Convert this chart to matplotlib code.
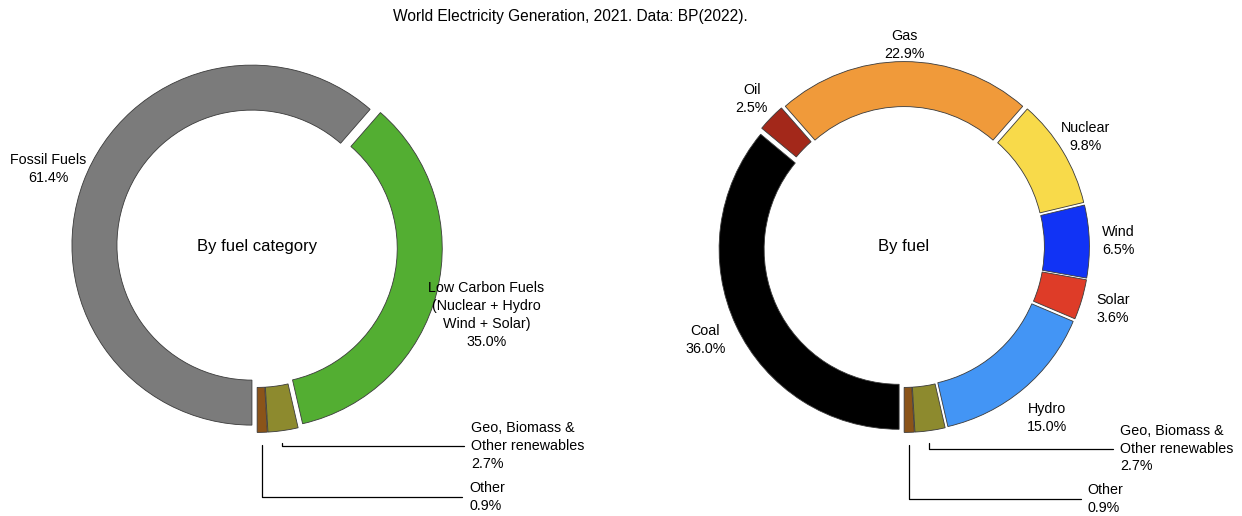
import matplotlib.pyplot as plt
import numpy as np

plt.rcParams['font.family'] = ['Liberation Sans', 'DejaVu Sans']

# World electricity generation 2021 (BP 2022), share in %
cat_names = ['Fossil Fuels', 'Low Carbon Fuels\n(Nuclear + Hydro\nWind + Solar)',
             'Geo, Biomass &\nOther renewables', 'Other']
cat_share = [61.4, 35.0, 2.7, 0.9]
cat_colors = ['#7b7b7b', '#53ae32', '#8d8a2e', '#8b5419']

fuel_names = ['Coal', 'Oil', 'Gas', 'Nuclear', 'Wind', 'Solar', 'Hydro',
              'Geo, Biomass &\nOther renewables', 'Other']
fuel_share = [36.0, 2.5, 22.9, 9.8, 6.5, 3.6, 15.0, 2.7, 0.9]
fuel_colors = ['#000000', '#a3281a', '#f09a3a', '#f8da4a', '#1133f5',
               '#de3c28', '#4395f5', '#8d8a2e', '#8b5419']

# label placement for the big slices: distance (radii) and angle nudge (deg);
# the last two slices get leader lines instead
cat_dist = [1.24, 1.33]
cat_nudge = [0, -2.5]
fuel_dist = [1.22, 1.18, 1.12, 1.18, 1.19, 1.21, 1.24]
fuel_nudge = [0, 0, 0, 0, 0, 0, 0]
# text anchor for the leader-line labels: (x, y) in radii
cat_leader = [(1.19, -1.105), (1.18, -1.39)]
fuel_leader = [(1.20, -1.12), (1.02, -1.40)]

fig = plt.figure(figsize=(12.42, 5.16), dpi=100)
ax1 = fig.add_axes([5 / 1242, 17 / 516, 504 / 1242, 504 / 516])
ax2 = fig.add_axes([652 / 1242, 17 / 516, 504 / 1242, 504 / 516])


def donut(ax, names, share, colors, dist, nudge, leader, centre):
    wedges, _ = ax.pie(share, colors=colors, startangle=270, counterclock=False,
                       explode=[0.03] * len(share), radius=1.0,
                       wedgeprops=dict(width=0.25, edgecolor='#3a3a3a', linewidth=0.6))
    n_big = len(dist)
    for i, w in enumerate(wedges):
        ang = np.deg2rad((w.theta1 + w.theta2) / 2)
        label = '%s\n%.1f%%' % (names[i], share[i])
        if i < n_big:
            a = ang + np.deg2rad(nudge[i])
            ax.text(dist[i] * np.cos(a), dist[i] * np.sin(a), label,
                    ha='center', va='center', fontsize=10.3, linespacing=1.35)
        else:
            tx, ty = leader[i - n_big]
            px = np.cos(ang)
            py = np.sin(ang) - 0.1
            ax.annotate(label, xy=(px, py), xytext=(tx, ty),
                        ha='left', va='center', fontsize=10.3, linespacing=1.35,
                        multialignment='left',
                        arrowprops=dict(arrowstyle='-', color='black', lw=0.9,
                                        shrinkA=3, shrinkB=0,
                                        connectionstyle='angle,angleA=0,angleB=90,rad=0'))
    ax.text(0, 0, centre, ha='center', va='center', fontsize=12)
    ax.set_xlim(-1.4, 1.4)
    ax.set_ylim(-1.4, 1.4)
    ax.set_aspect('equal')


donut(ax1, cat_names, cat_share, cat_colors, cat_dist, cat_nudge, cat_leader,
      'By fuel category')
donut(ax2, fuel_names, fuel_share, fuel_colors, fuel_dist, fuel_nudge, fuel_leader,
      'By fuel')

fig.text(570 / 1242, 1 - 16 / 516, 'World Electricity Generation, 2021. Data: BP(2022).',
         ha='center', va='center', fontsize=11.2)

fig.savefig('out.png', dpi=100)
